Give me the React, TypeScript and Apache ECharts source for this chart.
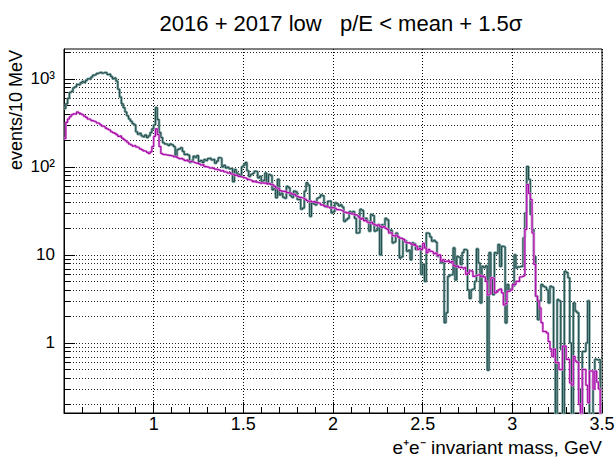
import React, { useEffect, useRef } from "react";
import * as echarts from "echarts";

// Histogram binning: 10 MeV bins from 0.5 to 3.5 GeV
const MASS_MIN = 0.5;
const MASS_MAX = 3.5;
const BIN_WIDTH = 0.01;

// Y range of the log axis (events / 10 MeV)
const Y_MIN = 0.16;
const Y_MAX = 2180;

// Stand-in for empty bins on the log axis (falls below the frame and is clipped)
const EMPTY_FLOOR = 0.01;

// Dark green histogram, 300 bins
const histGreen = [
  460, 520, 600, 700, 720, 790, 810, 860, 850, 900,
  930, 910, 960, 1000, 990, 1050, 1100, 1110, 1150, 1170,
  1190, 1160, 1180, 1170, 1120, 1130, 1060, 1000, 1020, 940,
  760, 620, 520, 470, 420, 380, 350, 330, 310, 300,
  250, 235, 240, 225, 220, 230, 215, 225, 245, 270,
  300, 470, 345, 245, 215, 188, 182, 180, 175, 182,
  178, 170, 132, 157, 160, 165, 150, 138, 140, 136,
  112, 118, 132, 128, 134, 115, 118, 112, 121, 118,
  124, 126, 120, 122, 110, 116, 127, 125, 100, 104,
  97, 99, 95, 96, 68, 93, 85, 82, 80, 100,
  105, 112, 90, 78, 82, 84, 89, 88, 75, 78,
  68, 70, 85, 66, 82, 80, 55, 57, 44.5, 72,
  48, 50, 45, 44, 60, 58, 47, 45, 53, 52,
  42.5, 43, 33, 34, 53, 66, 62, 27.4, 39, 38,
  37, 44, 45, 48, 47, 36, 35, 40.6, 41, 30,
  31, 39, 38, 36, 37, 35, 24, 25, 26, 31,
  30, 31, 26, 17.7, 18, 33, 32, 25, 26, 24,
  18.6, 28.7, 28, 18.6, 19, 22, 10, 22, 21, 26,
  25, 18.6, 19, 13.7, 14, 17.7, 16, 9.2, 9.5, 14.9,
  14.5, 11, 11.3, 8.8, 13.7, 13.4, 11.5, 11.8, 12.5, 6,
  7.8, 5, 17.7, 17.4, 16, 14.3, 14.6, 14, 9.6, 9.8,
  8.1, 8.3, 1.7, 2.2, 5.7, 5.9, 6, 12, 5.2, 9.6,
  9.4, 7.8, 10.6, 11.5, 11.3, 4, 3.2, 4, 4.1, 5,
  11.7, 8.1, 2.85, 7.4, 7.2, 7.5, 0.49, 10.6, 5.25, 3.54,
  10.6, 10.4, 13.1, 7.4, 12.5, 12.3, 1.69, 4.6, 4, 4.1,
  4.4, 10, 7.1, 7.3, 7.4, 7.4, 15.6, 30, 101, 72,
  28.7, 19.4, 9.6, 3.4, 1.84, 3, 4.6, 4.4, 4.3, 4,
  2.85, 4.4, 4.3, 0.84, 0, 3.1, 3, 0.84, 0, 6.5,
  6.3, 5.5, 1, 0, 2.85, 2.3, 2.2, 0.3, 0, 0.8,
  0.8, 1, 3, 0, 0, 0.4, 0.65, 0.64, 0.65, 0,
];

// Magenta histogram, 300 bins
const histMagenta = [
  210, 320, 350, 370, 390, 400, 395, 420, 410, 400,
  390, 375, 365, 350, 345, 335, 330, 325, 315, 310,
  300, 290, 285, 275, 268, 262, 250, 245, 240, 232,
  222, 225, 212, 205, 198, 190, 182, 178, 172, 175,
  168, 165, 160, 157, 152, 150, 146, 142, 148, 170,
  222, 270, 233, 170, 142, 138, 137, 136, 135, 134,
  133, 130, 131, 127, 124, 125, 122, 118, 120, 116,
  115, 114, 112, 110, 111, 108, 105, 106, 101, 100,
  99, 97, 98, 96, 94, 93, 92, 90, 91, 88,
  87, 85, 86, 83, 82, 80, 81, 78, 77, 76,
  75, 74, 72, 71, 70, 68, 69, 67, 66, 65,
  66, 65, 66, 64, 65, 63, 62, 60, 57.6, 57,
  54, 53, 52.5, 53, 51, 50.6, 50, 49, 48.5, 47,
  46, 45, 44.5, 44, 43, 41.5, 40.6, 41, 40, 40.5,
  39.5, 39, 38.5, 37, 36.5, 35.6, 36, 35, 34.2, 34.5,
  34, 33.5, 32.7, 32.5, 32, 31.5, 30.5, 30, 30.2, 29.5,
  29, 29.3, 28.5, 28, 27, 25.5, 26, 24.5, 24.5, 23.5,
  23, 23.5, 22.5, 22, 21.5, 22, 21, 20.5, 21, 20,
  19.5, 17.7, 18, 16.5, 16.3, 16.8, 16, 15.5, 15.3, 15,
  14, 13.7, 13.8, 13.4, 13, 13.2, 12.6, 11.5, 11.8, 11.5,
  13.5, 12, 10.6, 11.5, 11, 10.8, 10.3, 10.5, 9.8, 10,
  8.5, 8.8, 8.4, 8.5, 8.6, 8.2, 8.4, 7.6, 7.4, 7.5,
  7.2, 7.3, 7.1, 7.2, 6, 6.2, 6.6, 6.5, 5.7, 5.8,
  5.9, 6, 5.7, 5.8, 5.6, 5, 3.5, 3.6, 5.5, 5.4,
  3.7, 3.8, 4, 4.1, 3.7, 2.7, 2.8, 3.85, 3.9, 4,
  4.6, 4.6, 5, 5, 5.6, 5.7, 5.8, 19.4, 63, 50,
  42.5, 17.7, 7.8, 3.4, 3, 2.5, 1.7, 1.35, 1.35, 1.3,
  1.04, 0.85, 0.7, 0.85, 0.6, 0.6, 0.5, 0.5, 0.92, 0.92,
  0.65, 0.65, 0.35, 0.33, 0.7, 0.62, 0.6, 0.2, 0, 0.5,
  0.5, 0.33, 0.21, 0.48, 0.48, 0.3, 0.48, 0.36, 0.3, 0,
];

// Decade labels of the y axis
const yDecadeLabels: Record<number, string> = { 0: "1", 1: "10", 2: "10²", 3: "10³" };

// Multipliers used for the logarithmic grid rows
const gridMultipliers = [1, 2, 3, 4, 5, 6, 7, 8, 9];
const gridDecades = [-1, 0, 1, 2, 3];

const TITLE = "2016 + 2017 low\u00a0\u00a0\u00a0p/E < mean + 1.5σ";
const Y_TITLE = "events/10 MeV";
const X_TITLE = "e⁺e⁻ invariant mass, GeV";

const FONT = '"Liberation Sans", Arial, Helvetica, sans-serif';

function toSteps(counts: number[]): number[][] {
  const pts = counts.map((c, i) => [
    +(MASS_MIN + i * BIN_WIDTH).toFixed(2),
    c > 0 ? c : EMPTY_FLOOR,
  ]);
  const last = counts[counts.length - 1];
  pts.push([MASS_MAX, last > 0 ? last : EMPTY_FLOOR]);
  return pts;
}

function buildGridRows(): number[][] {
  const rows: number[][] = [];
  for (const d of gridDecades) {
    for (const m of gridMultipliers) {
      const v = +(m * Math.pow(10, d)).toPrecision(6);
      if (v > Y_MIN && v < Y_MAX) rows.push([MASS_MIN, v]);
    }
  }
  return rows;
}

export default function App() {
  const ref = useRef<HTMLDivElement>(null);

  useEffect(() => {
    if (!ref.current) return;
    const chart = echarts.init(ref.current, undefined, { renderer: "svg" });

    const greenSteps = toSteps(histGreen);
    const magentaSteps = toSteps(histMagenta);

    const option: any = {
      animation: false,
      backgroundColor: "#ffffff",
      grid: {
        left: 64,
        right: 14,
        top: 49,
        bottom: 45,
        show: true,
        borderColor: "#000",
        borderWidth: 1,
        backgroundColor: "transparent",
        outerBoundsMode: "none",
      },
      xAxis: {
        type: "value",
        min: MASS_MIN,
        max: MASS_MAX,
        interval: 0.5,
        axisLine: { show: true, lineStyle: { color: "#000", width: 1 } },
        axisTick: { show: true, inside: true, length: 11, lineStyle: { color: "#000", width: 1 } },
        minorTick: { show: true, splitNumber: 5, length: 6, lineStyle: { color: "#000", width: 1 } },
        splitLine: { show: true, lineStyle: { color: "#000", width: 1, type: [1, 2] } },
        axisLabel: {
          color: "#000",
          fontSize: 18,
          fontFamily: FONT,
          margin: 2,
          formatter: (v: number) => (Math.abs(v - MASS_MIN) < 1e-9 ? "" : String(v)),
        },
      },
      yAxis: {
        type: "log",
        logBase: 10,
        min: Y_MIN,
        max: Y_MAX,
        axisLine: { show: true, lineStyle: { color: "#000", width: 1 } },
        axisTick: { show: false },
        splitLine: { show: false },
        axisLabel: {
          color: "#000",
          fontSize: 17,
          fontFamily: FONT,
          margin: 9,
          formatter: (v: number) => {
            const l = Math.log10(v);
            const n = Math.round(l);
            if (Math.abs(l - n) > 1e-6) return "";
            return yDecadeLabels[n] ?? "";
          },
        },
      },
      series: [
        {
          name: "grid",
          type: "custom",
          silent: true,
          z: 1,
          encode: { x: 0, y: 1 },
          data: buildGridRows(),
          renderItem: (_params: any, api: any) => {
            const v = api.value(1);
            const a = api.coord([MASS_MIN, v]);
            const b = api.coord([MASS_MAX, v]);
            const y = Math.round(a[1]) + 0.5;
            const l = Math.log10(v);
            const major = Math.abs(l - Math.round(l)) < 1e-6;
            const len = major ? 11 : 6;
            return {
              type: "group",
              children: [
                {
                  type: "line",
                  shape: { x1: a[0], y1: y, x2: b[0], y2: y },
                  style: { stroke: "#222", lineWidth: 1, lineDash: [1, 2] },
                },
                {
                  type: "line",
                  shape: { x1: a[0], y1: y, x2: a[0] + len, y2: y },
                  style: { stroke: "#000", lineWidth: 1 },
                },
              ],
            };
          },
        },
        {
          name: "green halo",
          type: "line",
          step: "end",
          data: greenSteps,
          showSymbol: false,
          silent: true,
          z: 2,
          lineStyle: { color: "#7da5a3", width: 2.6 },
        },
        {
          name: "green",
          type: "line",
          step: "end",
          data: greenSteps,
          showSymbol: false,
          silent: true,
          z: 3,
          lineStyle: { color: "#1f4846", width: 1 },
        },
        {
          name: "magenta halo",
          type: "line",
          step: "end",
          data: magentaSteps,
          showSymbol: false,
          silent: true,
          z: 4,
          lineStyle: { color: "#d990d9", width: 2.4 },
        },
        {
          name: "magenta",
          type: "line",
          step: "end",
          data: magentaSteps,
          showSymbol: false,
          silent: true,
          z: 5,
          lineStyle: { color: "#a80ca8", width: 1.1 },
        },
      ],
      graphic: [
        {
          type: "text",
          x: 341,
          y: 23,
          style: {
            text: TITLE,
            fontSize: 22,
            fontFamily: FONT,
            fill: "#000",
            align: "center",
            verticalAlign: "middle",
          },
        },
        {
          type: "text",
          x: 16,
          y: 50,
          rotation: Math.PI / 2,
          style: {
            text: Y_TITLE,
            fontSize: 18,
            fontFamily: FONT,
            fill: "#000",
            align: "right",
            verticalAlign: "middle",
          },
        },
        {
          type: "text",
          x: 602,
          y: 447,
          style: {
            text: X_TITLE,
            fontSize: 19,
            fontFamily: FONT,
            fill: "#000",
            align: "right",
            verticalAlign: "middle",
          },
        },
      ],
    };

    chart.setOption(option);
    return () => chart.dispose();
  }, []);

  return (
    <div
      ref={ref}
      style={{ position: "fixed", left: 0, top: 0, width: 616, height: 458, background: "#fff" }}
    />
  );
}
